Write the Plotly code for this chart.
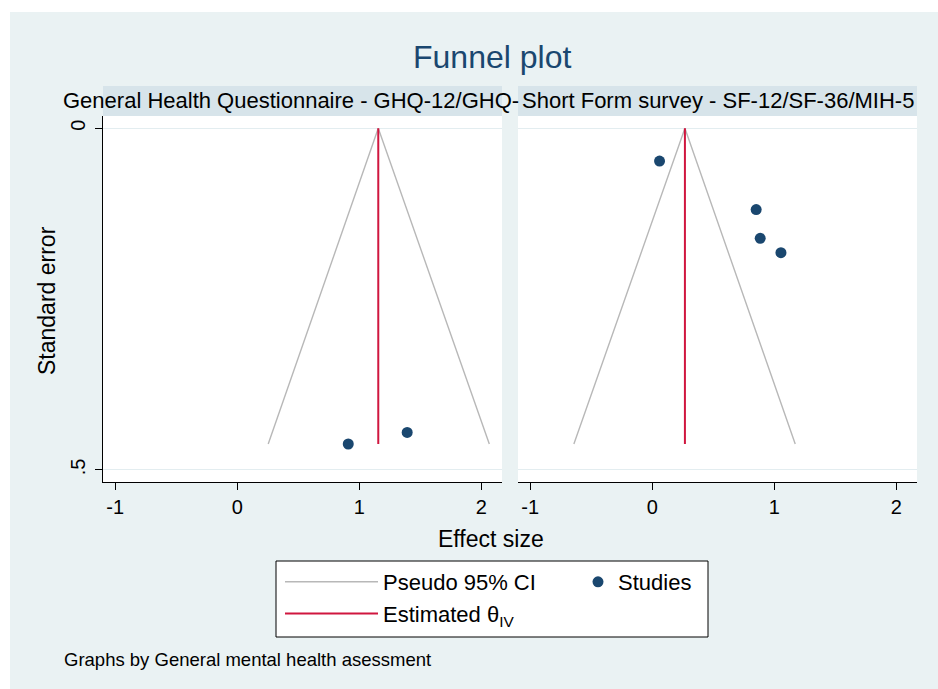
import plotly.graph_objects as go

# ---------------- data ----------------
panel_labels = ["General Health Questionnaire - GHQ-12/GHQ-",
                "Short Form survey - SF-12/SF-36/MIH-5"]

# pseudo 95% CI funnel: (left base, apex, right base)
ci_x_left = [0.254, 1.156, 2.066]
ci_x_right = [-0.642, 0.268, 1.172]
ci_se = [0.462, 0.0, 0.462]

# estimated theta (IV) vertical line
theta_left = [1.156, 1.156]
theta_right = [0.268, 0.268]
theta_se = [0.0, 0.462]

# studies
studies_x_left = [0.91, 1.393]
studies_se_left = [0.462, 0.445]
studies_x_right = [0.06, 0.852, 0.885, 1.055]
studies_se_right = [0.048, 0.119, 0.161, 0.182]

x_ticks = [-1, 0, 1, 2]
x_ticktext = ["-1", "0", "1", "2"]
y_ticks = [0, 0.5]
y_ticktext = ["0", ".5"]

# ---------------- styling ----------------
W, H = 938, 689
BG = "#eaf2f3"
STRIP = "#d7e4ea"
NAVY = "#1a476f"
GRAY = "#b8b8b8"
RED = "#d0163f"
FONT = "Liberation Sans, Arial, sans-serif"


def px(x):
    return x / W


def py(y):
    return 1 - y / H


xl_dom = [px(103), px(502)]
xr_dom = [px(518), px(917)]
y_dom = [py(482), py(116)]
x_range = [-1.10, 2.17]
y_range = [0.5176, -0.018]

fig = go.Figure()

panels = [
    ("x", "y", ci_x_left, theta_left, studies_x_left, studies_se_left, True),
    ("x2", "y2", ci_x_right, theta_right, studies_x_right, studies_se_right, False),
]
for xa, ya, cix, thx, sx, sse, show in panels:
    fig.add_trace(go.Scatter(x=cix, y=ci_se, mode="lines", xaxis=xa, yaxis=ya,
                             line=dict(color=GRAY, width=1.4),
                             name="Pseudo 95% CI", legend="legend",
                             showlegend=show, hoverinfo="skip"))
    fig.add_trace(go.Scatter(x=thx, y=theta_se, mode="lines", xaxis=xa, yaxis=ya,
                             line=dict(color=RED, width=2),
                             name="Estimated θ<sub>IV</sub>", legend="legend",
                             showlegend=show, hoverinfo="skip"))
    fig.add_trace(go.Scatter(x=sx, y=sse, mode="markers", xaxis=xa, yaxis=ya,
                             marker=dict(color=NAVY, size=11),
                             name="Studies", legend="legend2",
                             showlegend=show))

axis_common = dict(range=x_range, tickvals=x_ticks, ticktext=x_ticktext,
                   ticks="outside", ticklen=7,
                   tickcolor="black", tickwidth=1, showline=True, linecolor="black",
                   linewidth=1, showgrid=False, zeroline=False,
                   tickfont=dict(size=20, color="black", family=FONT), fixedrange=True)
yaxis_common = dict(range=y_range, tickvals=y_ticks, ticktext=y_ticktext,
                    showgrid=True, gridcolor="#e3edf0", gridwidth=1, zeroline=False,
                    tickfont=dict(size=20, color="black", family=FONT), fixedrange=True,
                    domain=y_dom)

fig.update_layout(
    width=W, height=H,
    margin=dict(l=0, r=0, t=0, b=0),
    paper_bgcolor=BG, plot_bgcolor="white",
    font=dict(family=FONT, color="black"),
    xaxis=dict(domain=xl_dom, anchor="y", **axis_common),
    xaxis2=dict(domain=xr_dom, anchor="y2", **axis_common),
    yaxis=dict(anchor="x", showline=True, linecolor="black", linewidth=1,
               ticks="outside", ticklen=7, tickcolor="black", tickangle=-90,
               ticklabelstandoff=2, **yaxis_common),
    yaxis2=dict(anchor="x2", showline=False, ticks="", showticklabels=False,
                **yaxis_common),
    legend=dict(orientation="v", x=px(280), y=py(561), xanchor="left", yanchor="top",
                bgcolor="rgba(0,0,0,0)", borderwidth=0, itemwidth=93,
                font=dict(size=22, color="black", family=FONT), tracegroupgap=0),
    legend2=dict(orientation="v", x=px(578), y=py(561), xanchor="left", yanchor="top",
                 bgcolor="rgba(0,0,0,0)", borderwidth=0,
                 font=dict(size=22, color="black", family=FONT)),
    showlegend=True,
)

shapes = [
    # white frame at top and left edges
    dict(type="rect", xref="paper", yref="paper", x0=0, x1=1, y0=py(12), y1=1,
         fillcolor="white", line=dict(width=0), layer="below"),
    dict(type="rect", xref="paper", yref="paper", x0=0, x1=px(10), y0=0, y1=1,
         fillcolor="white", line=dict(width=0), layer="below"),
    # strips
    dict(type="rect", xref="paper", yref="paper", x0=xl_dom[0], x1=xl_dom[1],
         y0=py(116), y1=py(86), fillcolor=STRIP, line=dict(width=0), layer="below"),
    dict(type="rect", xref="paper", yref="paper", x0=xr_dom[0], x1=xr_dom[1],
         y0=py(116), y1=py(86), fillcolor=STRIP, line=dict(width=0), layer="below"),
    # legend box
    dict(type="rect", xref="paper", yref="paper", x0=px(276), x1=px(708),
         y0=py(637), y1=py(561), fillcolor="white",
         line=dict(color="black", width=1), layer="below"),
]
fig.update_layout(shapes=shapes)

annotations = [
    dict(text="Funnel plot", x=px(492), y=py(57), xref="paper", yref="paper",
         showarrow=False, xanchor="center", yanchor="middle",
         font=dict(size=32, color=NAVY, family=FONT)),
    dict(text=panel_labels[0], x=px(61), y=py(101), xref="paper", yref="paper",
         showarrow=False, xanchor="left", yanchor="middle",
         font=dict(size=22, color="black", family=FONT)),
    dict(text=panel_labels[1], x=px(717.5), y=py(101), xref="paper", yref="paper",
         showarrow=False, xanchor="center", yanchor="middle",
         font=dict(size=22, color="black", family=FONT)),
    dict(text="Effect size", x=px(491), y=py(539), xref="paper", yref="paper",
         showarrow=False, xanchor="center", yanchor="middle",
         font=dict(size=23, color="black", family=FONT)),
    dict(text="Standard error", x=px(47), y=py(301), xref="paper", yref="paper",
         showarrow=False, xanchor="center", yanchor="middle", textangle=-90,
         font=dict(size=23, color="black", family=FONT)),
    dict(text="Graphs by General mental health asessment", x=px(62), y=py(659),
         xref="paper", yref="paper", showarrow=False, xanchor="left", yanchor="middle",
         font=dict(size=18.5, color="black", family=FONT)),
]
fig.update_layout(annotations=annotations)

fig.write_html("out.html")
